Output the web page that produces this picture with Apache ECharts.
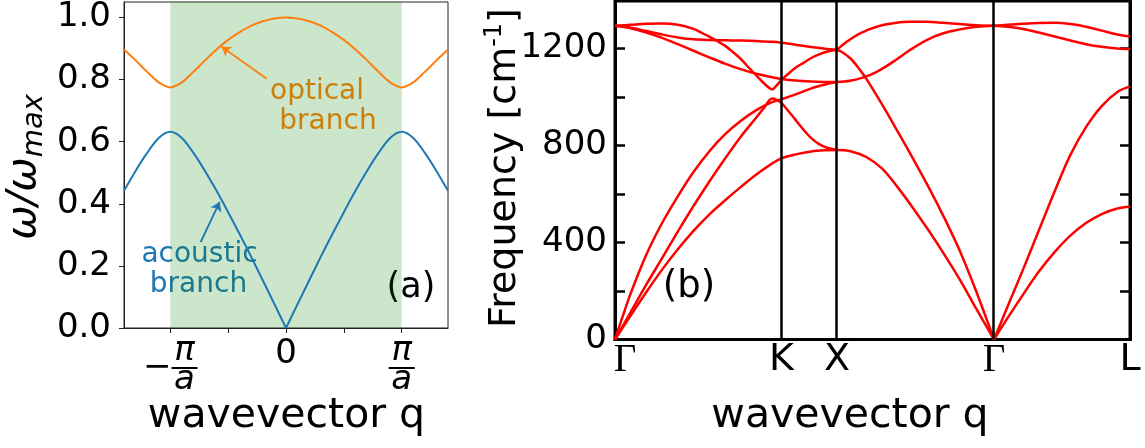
<!DOCTYPE html>
<html><head><meta charset="utf-8">
<script src="https://cdn.jsdelivr.net/npm/echarts@6/dist/echarts.min.js"></script>
<style>html,body{margin:0;padding:0;background:#fff}#c{width:1145px;height:448px}</style>
</head><body><div id="c"></div>
<script>
// ---------- Panel (a): diatomic chain, q in units of pi/a ----------
const qa = [-1.4,-1.3,-1.2,-1.1,-1.0,-0.9,-0.8,-0.7,-0.6,-0.5,-0.4,-0.3,-0.2,-0.1,0,0.1,0.2,0.3,0.4,0.5,0.6,0.7,0.8,0.9,1.0,1.1,1.2,1.3,1.4];
const acoustic = [0.442,0.506,0.564,0.612,0.632,0.612,0.564,0.506,0.442,0.373,0.302,0.229,0.153,0.077,0,0.077,0.153,0.229,0.302,0.373,0.442,0.506,0.564,0.612,0.632,0.612,0.564,0.506,0.442];
const optical = [0.897,0.862,0.825,0.791,0.775,0.791,0.825,0.862,0.897,0.928,0.953,0.974,0.988,0.997,1.0,0.997,0.988,0.974,0.953,0.928,0.897,0.862,0.825,0.791,0.775,0.791,0.825,0.862,0.897];
const aYTicks = [0,0.2,0.4,0.6,0.8,1.0];
const aXTicks = [-1,-0.5,0,0.5,1];
const aXLabels = [-1,0,1];
const zoneEdges = [-1,1];
const opticalArrow = [[-0.167,0.803],[-0.556,0.906]];
const acousticArrow = [[-0.737,0.277],[-0.573,0.406]];

// ---------- Panel (b): phonon dispersion along Γ-K-X-Γ-L ----------
const kPos = [0,1.0607,1.4142,2.4142,3.2803];
const kLabels = ['Γ','K','X','Γ','L'];
const bYTicks = [0,200,400,600,800,1000,1200];
const bYLabels = [0,400,800,1200];
// Γ-K-X
const gk_TA = [[0,0],[0.1,99],[0.2,196],[0.3,288],[0.4,372],[0.5,448],[0.6,515],[0.7,573],[0.8,628],[0.9,680],[1.0,725],[1.0607,747],[1.15,763],[1.25,775],[1.35,780],[1.4142,781]];
const gk_E  = [[0,0],[0.1,113],[0.2,227],[0.3,335],[0.4,445],[0.5,550],[0.6,650],[0.7,745],[0.8,835],[0.9,915],[0.95,955],[1.0,993],[1.03,988],[1.0607,974],[1.1,945],[1.15,905],[1.2,865],[1.25,830],[1.3,805],[1.35,790],[1.4142,781]];
const gk_D  = [[0,0],[0.05,97],[0.1,190],[0.2,350],[0.3,480],[0.4,590],[0.5,690],[0.6,775],[0.7,845],[0.8,900],[0.9,945],[1.0,978],[1.0607,990],[1.15,1010],[1.25,1035],[1.35,1053],[1.4142,1061]];
const gk_C  = [[0,1293],[0.1,1283],[0.2,1265],[0.3,1243],[0.4,1217],[0.5,1190],[0.6,1163],[0.7,1137],[0.8,1114],[0.9,1095],[1.0,1081],[1.0607,1074],[1.15,1067],[1.25,1063],[1.35,1061],[1.4142,1061]];
const gk_B  = [[0,1293],[0.1,1285],[0.2,1271],[0.3,1257],[0.4,1245],[0.5,1237],[0.6,1234],[0.7,1233],[0.8,1232],[0.9,1230],[1.0,1227],[1.0607,1223],[1.15,1215],[1.25,1205],[1.35,1197],[1.4142,1194]];
const gk_A  = [[0,1293],[0.1,1297],[0.2,1301],[0.3,1302],[0.4,1297],[0.5,1280],[0.55,1265],[0.6,1248],[0.65,1230],[0.7,1211],[0.75,1185],[0.8,1157],[0.85,1122],[0.9,1088],[0.95,1055],[0.98,1038],[1.0,1031],[1.02,1040],[1.0607,1070],[1.1,1093],[1.15,1120],[1.2,1140],[1.25,1160],[1.3,1175],[1.35,1186],[1.4142,1194]];
// X-Γ
const xg_TA = [[1.4142,781],[1.5,776],[1.6,752],[1.7,705],[1.8,628],[1.9,540],[2.0,447],[2.1,348],[2.2,243],[2.3,128],[2.4142,0]];
const xg_LA = [[1.4142,1194],[1.45,1183],[1.5,1158],[1.55,1120],[1.6,1075],[1.7,970],[1.8,858],[1.9,743],[2.0,625],[2.1,498],[2.2,360],[2.3,200],[2.4142,0]];
const xg_TO = [[1.4142,1061],[1.497,1066],[1.582,1080],[1.667,1103],[1.773,1145],[1.879,1193],[1.985,1234],[2.091,1262],[2.197,1278],[2.304,1289],[2.4142,1293]];
const xg_LO = [[1.4142,1194],[1.476,1227],[1.561,1262],[1.667,1289],[1.773,1303],[1.879,1309],[1.985,1309],[2.091,1305],[2.197,1300],[2.304,1295],[2.4142,1293]];
// Γ-L
const gl_TA = [[2.4142,0],[2.5,88],[2.6,186],[2.7,280],[2.8,360],[2.9,428],[3.0,480],[3.1,517],[3.2,540],[3.2803,547]];
const gl_LA = [[2.4142,0],[2.5,135],[2.6,290],[2.7,450],[2.8,610],[2.9,760],[3.0,875],[3.1,962],[3.2,1020],[3.2803,1043]];
const gl_TO = [[2.4142,1293],[2.5,1289],[2.6,1280],[2.7,1265],[2.8,1249],[2.9,1232],[3.0,1217],[3.1,1206],[3.2,1199],[3.2803,1197]];
const gl_LO = [[2.4142,1293],[2.5,1297],[2.6,1301],[2.7,1304],[2.8,1305],[2.9,1300],[3.0,1289],[3.1,1273],[3.2,1257],[3.2803,1249]];
const bands = [gk_TA,gk_E,gk_D,gk_C,gk_B,gk_A,xg_TA,xg_LA,xg_TO,xg_LO,gl_TA,gl_LA,gl_TO,gl_LO];

const BLUE = '#1f77b4', ORANGE = '#ff7f0e', RED = '#ff0000';
const FF = 'DejaVu Sans';
const zip = (xs, ys) => xs.map((x, i) => [x, ys[i]]);
const near = (a, b) => Math.abs(a - b) < 1e-6;

const chart = echarts.init(document.getElementById('c'), null, {renderer: 'canvas'});

const acData = zip(qa, acoustic);
const midIdx = qa.findIndex(v => near(v, 0));

const series = [
  {type:'line', xAxisIndex:0, yAxisIndex:0, data: acData.slice(0, midIdx + 1), smooth:0.3, showSymbol:false, z:3,
   lineStyle:{color:BLUE, width:2}, itemStyle:{color:BLUE},
   markArea:{silent:true, itemStyle:{color:'rgba(0,128,0,0.2)'}, data:[[{xAxis:zoneEdges[0]},{xAxis:zoneEdges[1]}]]},
   markLine:{silent:true, symbol:['none','arrow'], symbolSize:9, label:{show:false}, lineStyle:{color:BLUE, width:1.8, type:'solid'},
     emphasis:{disabled:true}, data:[[{coord:acousticArrow[0]},{coord:acousticArrow[1]}]]}},
  {type:'line', xAxisIndex:0, yAxisIndex:0, data: acData.slice(midIdx), smooth:0.3, showSymbol:false, z:3,
   lineStyle:{color:BLUE, width:2}, itemStyle:{color:BLUE}},
  {type:'line', xAxisIndex:0, yAxisIndex:0, data: zip(qa, optical), smooth:0.3, showSymbol:false, z:3,
   lineStyle:{color:ORANGE, width:2}, itemStyle:{color:ORANGE},
   markLine:{silent:true, symbol:['none','arrow'], symbolSize:9, label:{show:false}, lineStyle:{color:ORANGE, width:1.8, type:'solid'},
     emphasis:{disabled:true}, data:[[{coord:opticalArrow[0]},{coord:opticalArrow[1]}]]}},
  {type:'line', xAxisIndex:1, yAxisIndex:1, data: [], z:1,
   markLine:{silent:true, symbol:'none', label:{show:false}, lineStyle:{color:'#000', width:2.5, type:'solid'},
     emphasis:{disabled:true}, data: kPos.slice(1, 4).map(v => ({xAxis: v}))}}
];
bands.forEach(b => series.push({type:'line', xAxisIndex:1, yAxisIndex:1, data:b, smooth:0.35, showSymbol:false, z:3,
  lineStyle:{color:RED, width:2.5}, itemStyle:{color:RED}}));

const fracRich = {
  z:{fontFamily:FF, fontSize:34, lineHeight:32, color:'#000'},
  n:{fontFamily:FF, fontStyle:'italic', fontSize:34, lineHeight:27, color:'#000'},
  d:{fontFamily:FF, fontStyle:'italic', fontSize:34, lineHeight:18, color:'#000'},
  m:{fontFamily:FF, fontSize:34, lineHeight:6, color:'#000'},
  bar:{width:26, height:2, lineHeight:6, fontSize:2, backgroundColor:'#000'},
  sp:{width:28.5, fontSize:2, lineHeight:2}
};

const option = {
  animation:false,
  backgroundColor:'#fff',
  grid:[
    {left:124, top:2, width:324, height:326, show:true, borderColor:'#222', borderWidth:1, containLabel:false},
    {left:615, top:1, width:515, height:338.5, show:true, borderColor:'#000', borderWidth:3, containLabel:false}
  ],
  xAxis:[
    {gridIndex:0, type:'value', min:-1.4, max:1.4,
     axisLine:{show:true, onZero:false, lineStyle:{color:'#222', width:1}},
     axisTick:{show:true, customValues:aXTicks, length:5, lineStyle:{color:'#222', width:1}},
     splitLine:{show:false},
     axisLabel:{customValues:aXLabels, margin:10, rich:fracRich,
       formatter: v => near(v,0) ? '{z|0}' : (v < 0 ? '{sp| }{n|π}\n{m|−}{bar| }\n{sp| }{d|a}' : '{n|π}\n{bar| }\n{d|a}')}},
    {gridIndex:1, type:'value', min:kPos[0], max:kPos[kPos.length-1],
     axisLine:{show:true, onZero:false, lineStyle:{color:'#000', width:3}},
     axisTick:{show:false}, splitLine:{show:false},
     axisLabel:{customValues:kPos, margin:2,
       formatter: v => { const i = kPos.findIndex(p => near(p, v)); const t = kLabels[i];
         if (t === 'Γ') return i === 0 ? '{g0|Γ}' : '{g|Γ}'; return '{s|' + t + '}'; },
       rich:{
         g:{fontFamily:'Liberation Serif', fontSize:39, color:'#000'},
         g0:{fontFamily:'Liberation Serif', fontSize:39, color:'#000', padding:[0,0,0,20]},
         s:{fontFamily:FF, fontSize:38, color:'#000'}
       }}}
  ],
  yAxis:[
    {gridIndex:0, type:'value', min:0, max:1.05,
     axisLine:{show:true, onZero:false, lineStyle:{color:'#222', width:1}},
     axisTick:{show:true, customValues:aYTicks, length:5, lineStyle:{color:'#222', width:1}},
     splitLine:{show:false},
     axisLabel:{customValues:aYTicks, margin:13, fontFamily:FF, fontSize:34, color:'#000', formatter: v => v.toFixed(1)}},
    {gridIndex:1, type:'value', min:0, max:1395,
     axisLine:{show:true, onZero:false, lineStyle:{color:'#000', width:3}},
     axisTick:{show:true, inside:true, customValues:bYTicks, length:10, lineStyle:{color:'#000', width:2.5}},
     splitLine:{show:false},
     axisLabel:{customValues:bYLabels, margin:8, fontFamily:FF, fontSize:34, color:'#000', formatter: v => String(Math.round(v))}},
    {gridIndex:1, type:'value', min:0, max:1395, position:'right',
     axisLine:{show:true, onZero:false, lineStyle:{color:'#000', width:3}},
     axisTick:{show:true, inside:true, customValues:bYTicks, length:10, lineStyle:{color:'#000', width:2.5}},
     splitLine:{show:false}, axisLabel:{show:false}}
  ],
  series: series,
  graphic:[
    {type:'text', x:24, y:167, rotation:Math.PI/2, style:{text:'{w|ω/ω}{s|max}', align:'center', verticalAlign:'middle',
      rich:{w:{fontFamily:FF, fontStyle:'italic', fontSize:41, lineHeight:50, fill:'#000'},
            s:{fontFamily:FF, fontStyle:'italic', fontSize:29, height:29, verticalAlign:'bottom', fill:'#000'}}}},
    {type:'text', x:286.5, y:416, style:{text:'wavevector q', font:'41px "DejaVu Sans"', fill:'#000', align:'center', verticalAlign:'middle'}},
    {type:'text', x:505, y:168, rotation:Math.PI/2, style:{text:'{t|Frequency [cm}{u|-1}{t|]}', align:'center', verticalAlign:'middle',
      rich:{t:{fontFamily:FF, fontSize:38, lineHeight:44, fill:'#000'},
            u:{fontFamily:FF, fontSize:24, height:24, verticalAlign:'top', fill:'#000'}}}},
    {type:'text', x:850, y:416, style:{text:'wavevector q', font:'41px "DejaVu Sans"', fill:'#000', align:'center', verticalAlign:'middle'}},
    {type:'text', x:411, y:288, style:{text:'(a)', font:'35px "DejaVu Sans"', fill:'#000', align:'center', verticalAlign:'middle'}},
    {type:'text', x:689, y:287, style:{text:'(b)', font:'37px "DejaVu Sans"', fill:'#000', align:'center', verticalAlign:'middle'}},
    {type:'text', x:317, y:92, style:{text:'optical', font:'28px "DejaVu Sans"', fill:ORANGE, align:'center', verticalAlign:'middle'}},
    {type:'text', x:328, y:122, style:{text:'branch', font:'28px "DejaVu Sans"', fill:ORANGE, align:'center', verticalAlign:'middle'}},
    {type:'text', x:199.5, y:255, style:{text:'acoustic', font:'28px "DejaVu Sans"', fill:BLUE, align:'center', verticalAlign:'middle'}},
    {type:'text', x:198.5, y:285, style:{text:'branch', font:'28px "DejaVu Sans"', fill:BLUE, align:'center', verticalAlign:'middle'}}
  ]
};
chart.setOption(option);
</script>
</body></html>
